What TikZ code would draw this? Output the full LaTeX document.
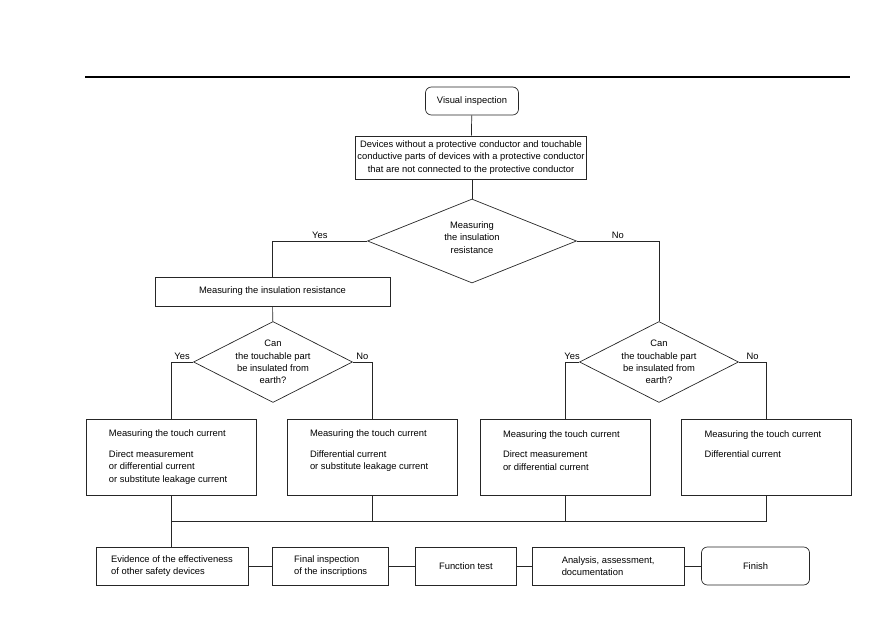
\documentclass[tikz,border=0pt]{standalone}
\usepackage{fontspec}
\setmainfont{Liberation Sans}
\usetikzlibrary{positioning,shapes.geometric}
\definecolor{inkgray}{HTML}{262626}
\newcommand{\tcbody}[1]{\parbox[c][1.62cm][t]{3.72cm}{#1}}
\tikzset{
  stepbox/.style={draw=inkgray,line width=.6pt,align=center,inner sep=3pt,font=\fontsize{8}{10.6}\selectfont},
  roundbox/.style={stepbox,rounded corners=5pt},
  decision/.style={draw=inkgray,line width=.6pt,diamond,aspect=2,inner sep=-5pt,align=center,font=\fontsize{8}{10.6}\selectfont},
  touchbox/.style={draw=inkgray,line width=.6pt,inner xsep=.69cm,inner ysep=.33cm,font=\fontsize{8}{10.6}\selectfont},
  link/.style={draw=inkgray,line width=.6pt},
  answer/.style={above,font=\fontsize{8}{10.6}\selectfont,inner sep=2pt},
}
\begin{document}
\begin{tikzpicture}[x=.03cm,y=-.03cm]
  \useasboundingbox (0,0) rectangle (893,629);
  \draw[line width=.9pt] (85,77) -- (850,77);
  % upper part
  \node[roundbox,minimum width=2.79cm,minimum height=.84cm] (vis) at (472,101) {Visual inspection};
  \node[stepbox,inner xsep=1.5pt,minimum width=6.75cm,minimum height=1.29cm] (dev) at (471,157.5)
    {Devices without a protective conductor and touchable\\conductive parts of devices with a protective conductor\\that are not connected to the protective conductor};
  \node[decision,minimum width=6.27cm,minimum height=2.52cm] (res) at (472,241) {Measuring\\the insulation\\resistance\\[-4.5pt]};
  \node[stepbox,minimum width=7.05cm,minimum height=.87cm] (ins) at (272.5,291.5) {Measuring the insulation resistance};
  \node[decision,minimum width=4.77cm,minimum height=2.43cm] (earthl) at (273,362) {Can\\the touchable part\\be insulated from\\earth?};
  \node[decision,minimum width=4.77cm,minimum height=2.43cm] (earthr) at (659,362) {Can\\the touchable part\\be insulated from\\earth?};
  \draw[link] (vis) -- (dev);
  \draw[link] (dev.south -| res.north) -- (res);
  \draw[link] (res.west) -| node[answer,pos=.25]{Yes} (ins.north);
  \draw[link] (res.east) -| node[answer,pos=.25]{No} (earthr.north);
  \draw[link] (ins) -- (earthl);
  % touch current boxes
  \node[touchbox] (tcA) at (171,457) {\tcbody{Measuring the touch current\\[7pt]Direct measurement\\or differential current\\or substitute leakage current}};
  \node[touchbox] (tcB) at (372,457) {\tcbody{Measuring the touch current\\[7pt]Differential current\\or substitute leakage current}};
  \node[touchbox] (tcC) at (565,457.5) {\tcbody{Measuring the touch current\\[7pt]Direct measurement\\or differential current}};
  \node[touchbox] (tcD) at (766.5,457.5) {\tcbody{Measuring the touch current\\[7pt]Differential current}};
  \draw[link] (earthl.west) -| node[answer,pos=.25]{Yes} (tcA.north);
  \draw[link] (earthl.east) -| node[answer,pos=.25]{No} (tcB.north);
  \draw[link] (earthr.west) -| node[answer,pos=.25]{Yes} (tcC.north);
  \draw[link] (earthr.east) -| node[answer,pos=.25]{No} (tcD.north);
  % final steps
  \node[stepbox,align=left,minimum width=4.56cm,minimum height=1.14cm] (evid) at (172,566) {Evidence of the effectiveness\\of other safety devices};
  \node[stepbox,align=left,minimum width=3.48cm,minimum height=1.14cm,right=.72cm of evid] (final) {Final inspection\\of the inscriptions};
  \node[stepbox,minimum width=3.03cm,minimum height=1.14cm,right=.78cm of final] (func) {Function test};
  \node[stepbox,align=left,minimum width=4.56cm,minimum height=1.14cm,right=.45cm of func] (anal) {Analysis, assessment,\\documentation};
  \node[roundbox,minimum width=3.24cm,minimum height=1.14cm,right=.5cm of anal] (finish) {Finish};
  \coordinate (bus) at (0,521);
  \draw[link] (tcA.south) -- (tcA.south |- evid.north);
  \draw[link] (tcA.south |- bus) -| (tcD.south);
  \draw[link] (tcB.south) -- (tcB.south |- bus);
  \draw[link] (tcC.south) -- (tcC.south |- bus);
  \draw[link] (evid) -- (final);
  \draw[link] (final) -- (func);
  \draw[link] (func) -- (anal);
  \draw[link] (anal) -- (finish);
\end{tikzpicture}
\end{document}
